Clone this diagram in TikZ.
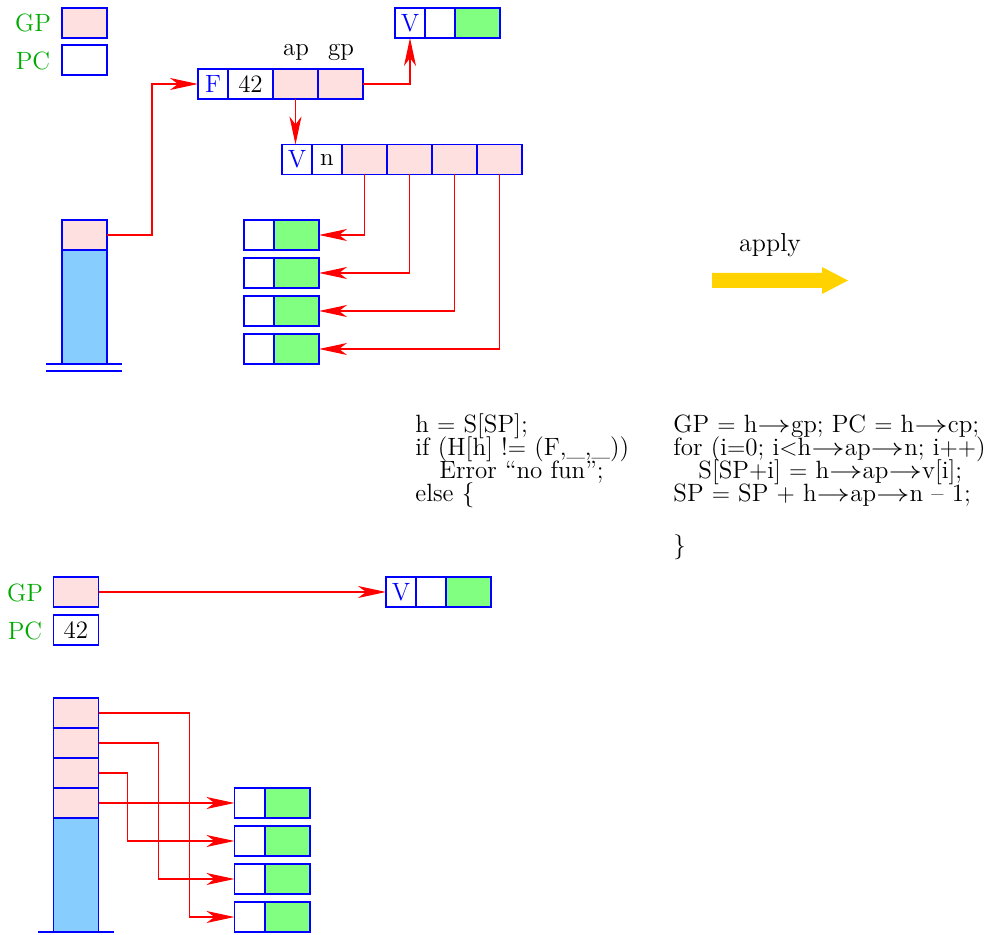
\documentclass[tikz,border=0pt]{standalone}
\usetikzlibrary{arrows.meta}
\definecolor{pinkc}{RGB}{255,224,224}
\definecolor{stackc}{RGB}{135,206,255}
\definecolor{greenc}{RGB}{128,255,128}
\definecolor{boxc}{RGB}{0,0,255}
\definecolor{labc}{RGB}{0,170,0}
\definecolor{yelc}{RGB}{255,210,0}
\definecolor{redc}{RGB}{255,0,0}
\newcommand{\myarr}{\scalebox{1.4}[1]{$\rightarrow$}}
\tikzset{
  cell/.style={draw=boxc, line width=0.7pt, inner sep=0pt, outer sep=0pt, minimum height=15pt, font=\fontsize{12.5}{14}\selectfont},
  nw/.style={cell, minimum width=15pt},
  ww/.style={cell, minimum width=22.5pt},
  pk/.style={ww, fill=pinkc},
  gr/.style={ww, fill=greenc},
  lab/.style={text=labc, font=\fontsize{12.5}{14}\selectfont},
  txt/.style={anchor=base west, inner sep=0pt, font=\fontsize{12.5}{14}\selectfont},
  ptr/.style={draw=redc, line width=0.65pt, -{Stealth[length=14pt,width=6pt,inset=4pt]}},
}
\begin{document}
\begin{tikzpicture}[x=0.5pt,y=-0.5pt]
\useasboundingbox (0,0) rectangle (998,935);
% ---------- top ----------
\node[lab] (gpl1) at (33,23) {GP};
\node[lab] (pcl1) at (33,61) {PC};
\node[pk] (gp1) at (84.5,23) {};
\node[ww] (pc1) at (84.5,60) {};
% F record
\node[nw, text=boxc] (fF) at (213,84) {F};
\node[ww] (f42) at (250.5,84) {42};
\node[pk] (fap) at (295.5,84) {};
\node[pk] (fgp) at (340.5,84) {};
\node[txt, anchor=base] (lap) at (296,56) {ap};
\node[txt, anchor=base] (lgp) at (341,56) {gp};
% top V record
\node[nw, text=boxc] (vt1) at (410,23) {V};
\node[nw] (vt2) at (440,23) {};
\node[gr] (vt3) at (477.5,23) {};
% V n record
\node[nw, text=boxc] (vn1) at (297,159.5) {V};
\node[nw] (vn2) at (327,159.5) {n};
\node[pk] (c1) at (364.5,159.5) {};
\node[pk] (c2) at (409.5,159.5) {};
\node[pk] (c3) at (454.5,159.5) {};
\node[pk] (c4) at (499.5,159.5) {};
% small records
\foreach \i/\y in {1/235,2/273,3/311,4/349}{
  \node[nw] (rw\i) at (259,\y) {};
  \node[gr] (rg\i) at (296.5,\y) {};
}
% stack
\node[pk] (sp1) at (84.5,235) {};
\node[cell, fill=stackc, minimum width=22.5pt, minimum height=57pt, anchor=north] (sb1) at (84.5,250) {};
\draw[boxc, line width=0.6pt] (46,364) -- (122,364) (46,371) -- (122,371);
% connectors
\draw[ptr] (sp1.east) -- ++(45,0) |- (fF.west);
\draw[ptr] (fgp.east) -| (vt1.south);
\draw[ptr] (fap.south) -- (fap.south |- vn1.north);
\draw[ptr] (c1.south) |- (rg1.east);
\draw[ptr] (c2.south) |- (rg2.east);
\draw[ptr] (c3.south) |- (rg3.east);
\draw[ptr] (c4.south) |- (rg4.east);
% apply
\node[txt, anchor=base] (apply) at (770,252) {\fontsize{13}{14}\selectfont apply};
\fill[yelc] (712,273) -- (822,273) -- (822,267) -- (848,280.5) -- (822,294) -- (822,288) -- (712,288) -- cycle;
% code
\node[txt] (l1) at (415,433) {h $=$ S[SP];};
\node[txt] (l2) at (415,456) {if (H[h] !$=$ (F,\_,\_))};
\node[txt] (l3) at (439,479) {Error ``no fun'';};
\node[txt] (l4) at (415,502) {else \{};
\node[txt] (r1) at (673,433) {GP $=$ h\myarr gp; PC $=$ h\myarr cp;};
\node[txt] (r2) at (673,456) {for (i$=$0; i$<$h\myarr ap\myarr n; i$++$)};
\node[txt] (r3) at (698,479) {S[SP$+$i] $=$ h\myarr ap\myarr v[i];};
\node[txt] (r4) at (673,502) {SP $=$ SP $+$ h\myarr ap\myarr n -- 1;};
\node[txt] (r5) at (673,554) {\}};
% ---------- bottom ----------
\node[lab] (gpl2) at (25,593) {GP};
\node[lab] (pcl2) at (25,631) {PC};
\node[pk] (gp2) at (76,592) {};
\node[ww] (pc2) at (76,630) {42};
\node[nw, text=boxc] (v21) at (401,592) {V};
\node[nw] (v22) at (431,592) {};
\node[gr] (v23) at (468.5,592) {};
\draw[ptr] (gp2.east) -- (v21.west);
% stack 2
\foreach \i/\y in {1/713,2/743,3/773,4/803}{
  \node[pk] (s\i) at (76,\y) {};
}
\node[cell, fill=stackc, minimum width=22.5pt, minimum height=57pt, anchor=north] (sb2) at (76,818) {};
\draw[boxc, line width=0.6pt] (38,932) -- (114,932);
\foreach \i/\y in {1/803,2/841,3/879,4/917}{
  \node[nw] (bw\i) at (249.5,\y) {};
  \node[gr] (bg\i) at (287.5,\y) {};
}
\draw[ptr] (s4.east) -- (bw1.west);
\draw[ptr] (s3.east) -- ++(29,0) |- (bw2.west);
\draw[ptr] (s2.east) -- ++(60,0) |- (bw3.west);
\draw[ptr] (s1.east) -- ++(91,0) |- (bw4.west);
\end{tikzpicture}
\end{document}
